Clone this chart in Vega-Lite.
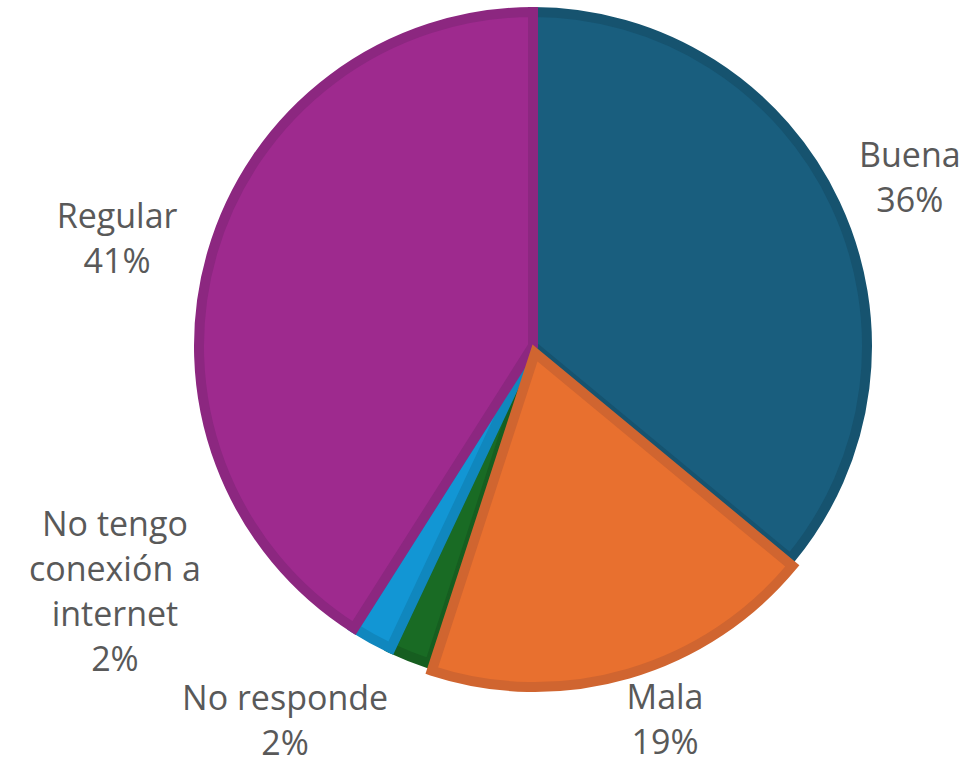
{
  "$schema": "https://vega.github.io/schema/vega-lite/v6.json",
  "width": 678,
  "height": 678,
  "autosize": {"type": "none"},
  "padding": {"left": 194, "top": 7, "right": 94, "bottom": 81},
  "background": "white",
  "view": {"stroke": null},
  "data": {
    "values": [
      {"respuesta": "Buena", "etiqueta": "Buena", "porcentaje": 36, "orden": 1},
      {"respuesta": "Mala", "etiqueta": "Mala", "porcentaje": 19, "orden": 2},
      {"respuesta": "No responde", "etiqueta": "No responde", "porcentaje": 2, "orden": 3},
      {"respuesta": "No tengo conexión a internet", "etiqueta": "No tengo\nconexión a\ninternet", "porcentaje": 2, "orden": 4},
      {"respuesta": "Regular", "etiqueta": "Regular", "porcentaje": 41, "orden": 5}
    ]
  },
  "transform": [
    {"stack": "porcentaje", "groupby": [], "sort": [{"field": "orden", "order": "ascending"}], "as": ["ini", "fin"]},
    {"calculate": "(datum.ini + datum.fin) / 2", "as": "medio"},
    {"calculate": "datum.etiqueta + '\\n' + datum.porcentaje + '%'", "as": "texto"}
  ],
  "encoding": {
    "theta": {"field": "ini", "type": "quantitative", "scale": {"domain": [0, 100]}},
    "theta2": {"field": "fin"},
    "color": {
      "field": "respuesta", "type": "nominal", "legend": null,
      "scale": {
        "domain": ["Buena", "Mala", "No responde", "No tengo conexión a internet", "Regular"],
        "range": ["#195E7E", "#E8702F", "#196B24", "#1296D4", "#9E2A8E"]
      }
    },
    "stroke": {
      "field": "respuesta", "type": "nominal", "legend": null,
      "scale": {
        "domain": ["Buena", "Mala", "No responde", "No tengo conexión a internet", "Regular"],
        "range": ["#16536F", "#D06530", "#165E20", "#1087BE", "#8C2780"]
      }
    }
  },
  "layer": [
    {
      "transform": [{"filter": "datum.orden != 2"}],
      "mark": {"type": "arc", "outerRadius": 334, "strokeWidth": 10}
    },
    {
      "transform": [{"filter": "datum.orden == 2"}],
      "mark": {"type": "arc", "outerRadius": 334, "strokeWidth": 10, "xOffset": 2, "yOffset": 7}
    },
    {
      "transform": [{"filter": "datum.orden == 1"}],
      "mark": {"type": "text", "radius": 380, "dx": 33, "dy": -27, "font": "Open Sans", "fontSize": 34, "lineHeight": 45, "lineBreak": "\n", "color": "#595959", "align": "center", "baseline": "middle"},
      "encoding": {"theta": {"field": "medio", "type": "quantitative"}, "theta2": null, "color": null, "stroke": null, "text": {"field": "texto"}}
    },
    {
      "transform": [{"filter": "datum.orden == 2"}],
      "mark": {"type": "text", "radius": 380, "dx": 26, "dy": -12, "font": "Open Sans", "fontSize": 34, "lineHeight": 45, "lineBreak": "\n", "color": "#595959", "align": "center", "baseline": "middle"},
      "encoding": {"theta": {"field": "medio", "type": "quantitative"}, "theta2": null, "color": null, "stroke": null, "text": {"field": "texto"}}
    },
    {
      "transform": [{"filter": "datum.orden == 3"}],
      "mark": {"type": "text", "radius": 380, "dx": -108, "dy": 1, "font": "Open Sans", "fontSize": 34, "lineHeight": 45, "lineBreak": "\n", "color": "#595959", "align": "center", "baseline": "middle"},
      "encoding": {"theta": {"field": "medio", "type": "quantitative"}, "theta2": null, "color": null, "stroke": null, "text": {"field": "texto"}}
    },
    {
      "transform": [{"filter": "datum.orden == 4"}],
      "mark": {"type": "text", "radius": 380, "dx": -235, "dy": -153, "font": "Open Sans", "fontSize": 34, "lineHeight": 45, "lineBreak": "\n", "color": "#595959", "align": "center", "baseline": "middle"},
      "encoding": {"theta": {"field": "medio", "type": "quantitative"}, "theta2": null, "color": null, "stroke": null, "text": {"field": "texto"}}
    },
    {
      "transform": [{"filter": "datum.orden == 5"}],
      "mark": {"type": "text", "radius": 380, "dx": -51, "dy": -22, "font": "Open Sans", "fontSize": 34, "lineHeight": 45, "lineBreak": "\n", "color": "#595959", "align": "center", "baseline": "middle"},
      "encoding": {"theta": {"field": "medio", "type": "quantitative"}, "theta2": null, "color": null, "stroke": null, "text": {"field": "texto"}}
    }
  ]
}
